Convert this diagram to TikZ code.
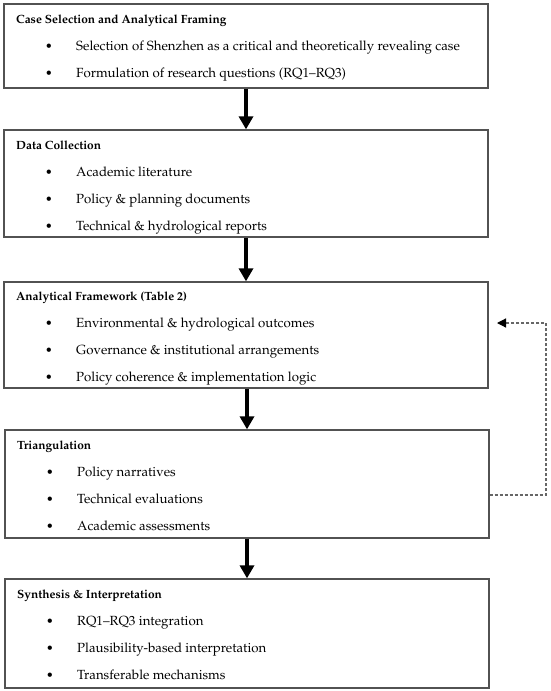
\documentclass[tikz,border=0pt]{standalone}
\usepackage[T1]{fontenc}
\usepackage{mathpazo}
\usetikzlibrary{arrows.meta}
\begin{document}
\begin{tikzpicture}[x=1pt,y=-1pt,
  stagebox/.style={draw=black!68,line width=1.3pt,rectangle,inner sep=0pt,minimum width=484pt},
  ttl/.style={anchor=base west,inner sep=0pt,font=\fontsize{11.9}{14}\selectfont\bfseries},
  itm/.style={anchor=base west,inner sep=0pt,font=\fontsize{13.25}{15}\selectfont},
  bul/.style={anchor=base,inner sep=0pt,font=\fontsize{12.5}{14}\selectfont},
  bigarrow/.style={line width=3.6pt,-{Triangle[width=14pt,length=13pt]}},
  fb/.style={draw=black!60,line width=1.2pt,dash pattern=on 3pt off 2pt,-{Triangle[width=9pt,length=9pt,color=black]}}
]
\useasboundingbox (0,0) rectangle (550,691);
% boxes
\node[stagebox,minimum height=84pt]  (s1) at (246,46) {};
\node[stagebox,minimum height=107pt] (s2) at (246,183.5) {};
\node[stagebox,minimum height=106pt] (s3) at (246,335) {};
\node[stagebox,minimum height=108pt] (s4) at (247,484) {};
\node[stagebox,minimum height=109pt] (s5) at (247,633.5) {};
% box 1
\node[ttl] (t1) at (16,23) {Case Selection and Analytical Framing};
\node[bul] (u1a) at (49,50) {\textbullet};
\node[itm] (i1a) at (76,50) {Selection of Shenzhen as a critical and theoretically revealing case};
\node[bul] (u1b) at (49,77) {\textbullet};
\node[itm] (i1b) at (76,77) {Formulation of research questions (RQ1--RQ3)};
% box 2
\node[ttl] (t2) at (16,149) {Data Collection};
\node[bul] (u2a) at (49,176) {\textbullet};
\node[itm] (i2a) at (76,176) {Academic literature};
\node[bul] (u2b) at (49,203) {\textbullet};
\node[itm] (i2b) at (76,203) {Policy \& planning documents};
\node[bul] (u2c) at (49,230) {\textbullet};
\node[itm] (i2c) at (76,230) {Technical \& hydrological reports};
% box 3
\node[ttl] (t3) at (16,300) {Analytical Framework (Table 2)};
\node[bul] (u3a) at (49,327) {\textbullet};
\node[itm] (i3a) at (76,327) {Environmental \& hydrological outcomes};
\node[bul] (u3b) at (49,354) {\textbullet};
\node[itm] (i3b) at (76,354) {Governance \& institutional arrangements};
\node[bul] (u3c) at (49,381) {\textbullet};
\node[itm] (i3c) at (76,381) {Policy coherence \& implementation logic};
% box 4
\node[ttl] (t4) at (17,449) {Triangulation};
\node[bul] (u4a) at (50,476) {\textbullet};
\node[itm] (i4a) at (77,476) {Policy narratives};
\node[bul] (u4b) at (50,503) {\textbullet};
\node[itm] (i4b) at (77,503) {Technical evaluations};
\node[bul] (u4c) at (50,530) {\textbullet};
\node[itm] (i4c) at (77,530) {Academic assessments};
% box 5
\node[ttl] (t5) at (17,598) {Synthesis \& Interpretation};
\node[bul] (u5a) at (50,625) {\textbullet};
\node[itm] (i5a) at (77,625) {RQ1--RQ3 integration};
\node[bul] (u5b) at (50,652) {\textbullet};
\node[itm] (i5b) at (77,652) {Plausibility-based interpretation};
\node[bul] (u5c) at (50,679) {\textbullet};
\node[itm] (i5c) at (77,679) {Transferable mechanisms};
% flow arrows
\draw[bigarrow] (s1.south) -- (s2.north);
\draw[bigarrow] (s2.south) -- (s3.north);
\draw[bigarrow] ([xshift=1pt]s3.south) -- (s4.north);
\draw[bigarrow] (s4.south) -- (s5.north);
% feedback
\coordinate (fbtip) at (497,323);
\draw[fb] ([yshift=-11pt]s4.east) -- (546,495) |- (fbtip);
\end{tikzpicture}
\end{document}
